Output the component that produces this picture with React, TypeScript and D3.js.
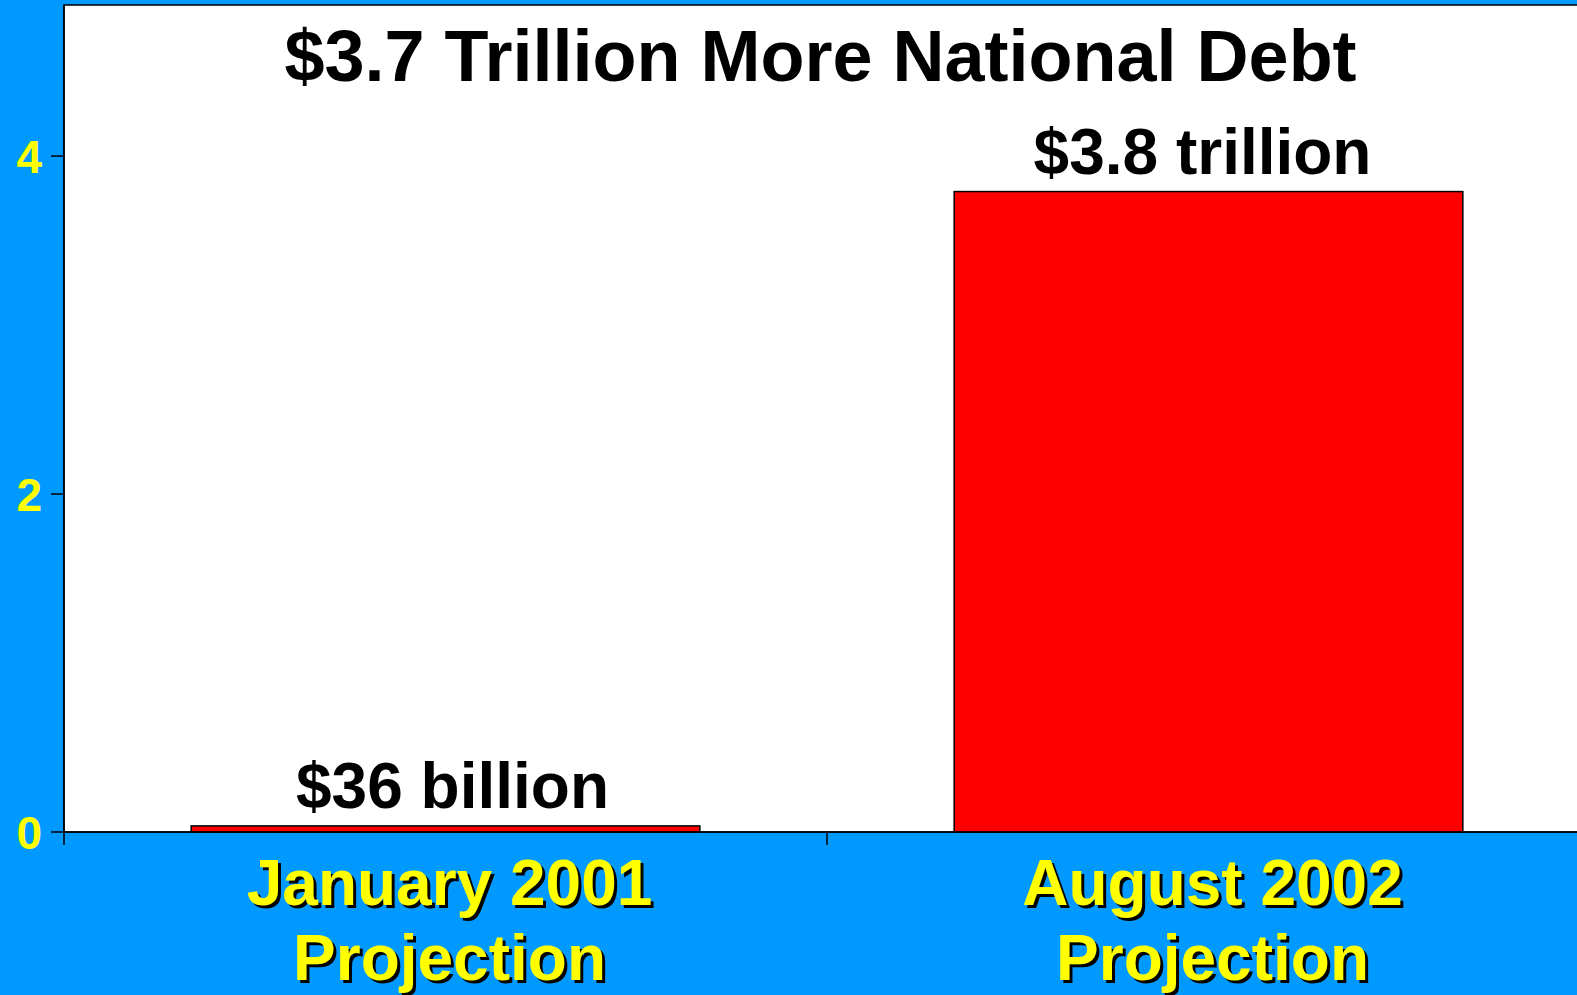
import React from "react";
import * as d3 from "d3";

const categories = ["January 2001|Projection", "August 2002|Projection"];
const values = [0.036, 3.79];
const valueLabels = ["$36 billion", "$3.8 trillion"];
const yTicks = [0, 2, 4];
const title = "$3.7 Trillion More National Debt";

const W = 1577;
const H = 995;
const M = { left: 64, top: 5, bottom: 832 };
const FONT = "'Liberation Sans', Arial, Helvetica, sans-serif";

export default function App() {
  const x = d3
    .scaleBand<string>()
    .domain(categories)
    .range([M.left, M.left + 2 * 763])
    .paddingInner(1 / 3)
    .paddingOuter(1 / 6);
  const y = d3.scaleLinear().domain([0, 4.9]).range([M.bottom, 4]);
  const step = x.step();
  const boundaries = categories.map((_, i) => M.left + step * (i + 1));

  return (
    <svg
      width={W}
      height={H}
      style={{ position: "absolute", left: 0, top: 0, display: "block" }}
      fontFamily={FONT}
    >
      <rect x={0} y={0} width={W} height={H} fill="#0099FF" />
      <rect x={M.left} y={M.top} width={W - M.left + 10} height={M.bottom - M.top} fill="#FFFFFF" stroke="#000" strokeWidth={1.5} />
      {/* title */}
      <text x={(M.left + W) / 2} y={80.5} textAnchor="middle" fontSize={72} fontWeight="bold" fill="#000">
        {title}
      </text>
      {/* bars */}
      {categories.map((c, i) => (
        <rect
          key={c}
          x={x(c)}
          y={y(values[i])}
          width={x.bandwidth()}
          height={y(0) - y(values[i])}
          fill="#FF0000"
          stroke="#000"
          strokeWidth={1.5}
        />
      ))}
      {/* value labels */}
      {categories.map((c, i) => (
        <text
          key={c + "v"}
          x={(x(c) as number) + x.bandwidth() / 2 + (i === 0 ? 7 : -6)}
          y={y(values[i]) - 18}
          textAnchor="middle"
          fontSize={64}
          fontWeight="bold"
          fill="#000"
        >
          {valueLabels[i]}
        </text>
      ))}
      {/* y axis */}
      <line x1={M.left} x2={M.left} y1={M.top} y2={M.bottom + 13} stroke="#000" strokeWidth={1.5} />
      {yTicks.map((t) => (
        <g key={t}>
          <line x1={M.left - 13} x2={M.left} y1={y(t)} y2={y(t)} stroke="#000" strokeWidth={1.5} />
          <text x={42} y={y(t)} dy="0.36em" textAnchor="end" fontSize={46} fontWeight="bold" fill="#FFFF00">
            {t}
          </text>
        </g>
      ))}
      {/* x axis */}
      <line x1={M.left} x2={W} y1={M.bottom} y2={M.bottom} stroke="#000" strokeWidth={1.5} />
      {boundaries.map((b, i) => (
        <line key={i} x1={b} x2={b} y1={M.bottom} y2={M.bottom + 13} stroke="#000" strokeWidth={1.5} />
      ))}
      {categories.map((c) => {
        const cx = (x(c) as number) + x.bandwidth() / 2 + 4;
        const lines = c.split("|");
        return (
          <g key={c + "l"} fontSize={64} fontWeight="bold" textAnchor="middle">
            {lines.map((ln, j) => (
              <g key={j}>
                <text x={cx + 3} y={905 + j * 75 + 3} fill="#000">{ln}</text>
                <text x={cx} y={905 + j * 75} fill="#FFFF00">{ln}</text>
              </g>
            ))}
          </g>
        );
      })}
    </svg>
  );
}
